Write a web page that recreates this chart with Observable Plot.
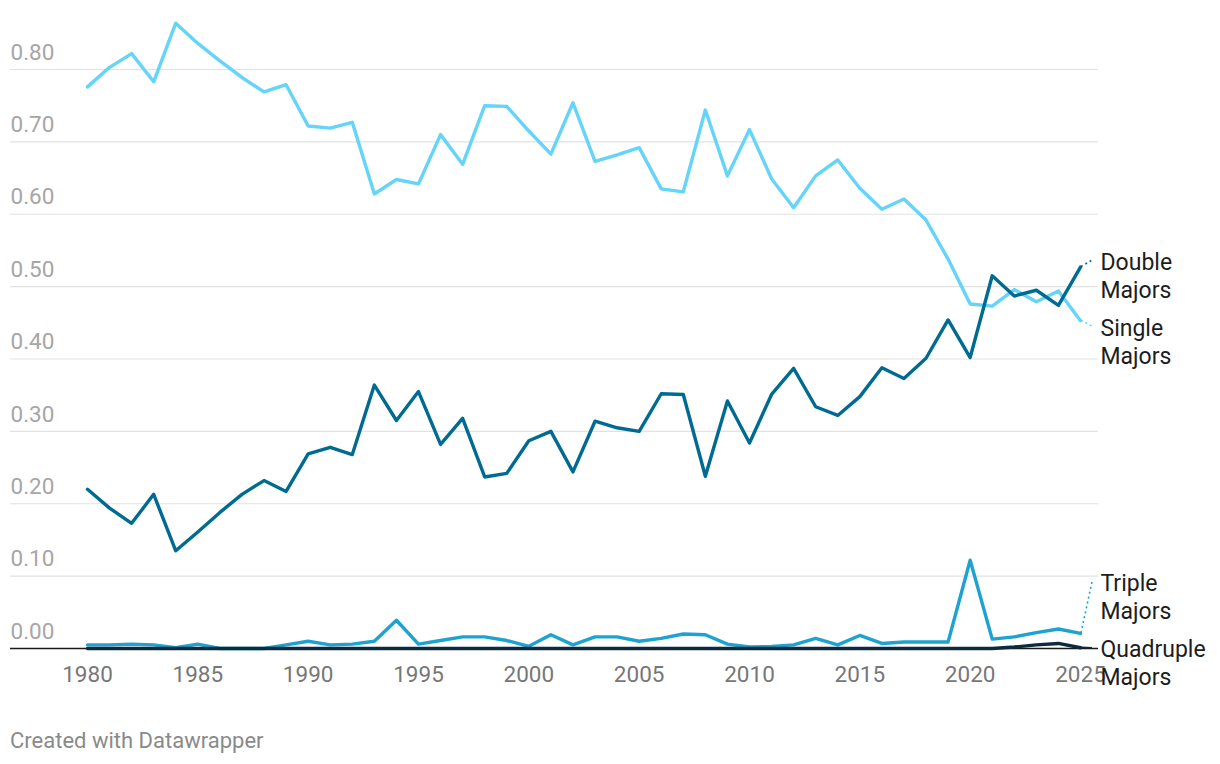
<!DOCTYPE html>
<html>
<head>
<meta charset="utf-8">
<script src="https://cdn.jsdelivr.net/npm/d3@7"></script>
<script src="https://cdn.jsdelivr.net/npm/@observablehq/plot@0.6"></script>
<style>
  html, body { margin: 0; padding: 0; background: #fff; }
  body { width: 1220px; height: 764px; position: relative; font-family: Roboto, "Noto Sans", sans-serif; overflow: hidden; }
  #chart { position: absolute; left: 0; top: 0; }
  #caption { position: absolute; left: 10px; top: 727px; font-size: 22px; line-height: 28px; color: #8a8a8a; }
</style>
</head>
<body>
<div id="chart"></div>
<div id="caption">Created with Datawrapper</div>
<script>
const years = [1980,1981,1982,1983,1984,1985,1986,1987,1988,1989,
  1990,1991,1992,1993,1994,1995,1996,1997,1998,1999,
  2000,2001,2002,2003,2004,2005,2006,2007,2008,2009,
  2010,2011,2012,2013,2014,2015,2016,2017,2018,2019,
  2020,2021,2022,2023,2024,2025];

const singleMajors = [0.776,0.803,0.822,0.783,0.864,0.836,0.812,0.789,0.769,0.779,
  0.722,0.719,0.727,0.628,0.648,0.642,0.710,0.669,0.750,0.749,
  0.715,0.683,0.754,0.673,0.682,0.692,0.635,0.631,0.744,0.653,
  0.717,0.649,0.609,0.653,0.675,0.636,0.607,0.621,0.592,0.538,
  0.476,0.473,0.496,0.479,0.494,0.453];

const doubleMajors = [0.220,0.194,0.173,0.213,0.135,0.161,0.188,0.213,0.232,0.217,
  0.269,0.278,0.268,0.364,0.315,0.355,0.282,0.318,0.237,0.242,
  0.287,0.300,0.244,0.314,0.305,0.300,0.352,0.351,0.238,0.342,
  0.284,0.351,0.387,0.334,0.322,0.348,0.388,0.373,0.401,0.454,
  0.402,0.515,0.487,0.495,0.474,0.527];

const tripleMajors = [0.005,0.005,0.006,0.005,0.001,0.006,0.000,0.000,0.000,0.005,
  0.010,0.005,0.006,0.010,0.039,0.006,0.011,0.016,0.016,0.011,
  0.003,0.019,0.005,0.016,0.016,0.010,0.014,0.020,0.019,0.006,
  0.002,0.003,0.005,0.014,0.005,0.018,0.007,0.009,0.009,0.009,
  0.122,0.013,0.016,0.022,0.027,0.021];

const quadrupleMajors = [0,0,0,0,0,0,0,0,0,0,
  0,0,0,0,0,0,0,0,0,0,
  0,0,0,0,0,0,0,0,0,0,
  0,0,0,0,0,0,0,0,0,0,
  0,0,0.002,0.005,0.007,0.001];

const seriesNames = ["Single Majors", "Double Majors", "Triple Majors", "Quadruple Majors"];
const labelTexts = ["Single\nMajors", "Double\nMajors", "Triple\nMajors", "Quadruple\nMajors"];
const yTicks = [0, 0.1, 0.2, 0.3, 0.4, 0.5, 0.6, 0.7, 0.8];
const yTickLabels = ["0.00","0.10","0.20","0.30","0.40","0.50","0.60","0.70","0.80"];
const xTicks = [1980, 1985, 1990, 1995, 2000, 2005, 2010, 2015, 2020, 2025];

const colors = ["#64d4f8", "#006b92", "#1ea3d0", "#0d2b3e"];
const labelDy = [20, 7.5, -37, 14.5];

const seriesValues = [singleMajors, doubleMajors, tripleMajors, quadrupleMajors];
const rows = seriesNames.flatMap((name, s) =>
  years.map((year, i) => ({series: name, year, value: seriesValues[s][i]})));

const lastRows = seriesNames.map((name, s) => ({
  series: name, label: labelTexts[s], year: years[years.length - 1],
  value: seriesValues[s][years.length - 1], color: colors[s], dy: labelDy[s]
}));

const tickRows = yTicks.map((v, i) => ({v, label: yTickLabels[i]}));

const font = "Roboto, 'Noto Sans', sans-serif";

// leader lines from line ends to labels (pixel offsets via scales)
function leaders(index, scales) {
  const g = d3.create("svg:g");
  for (const r of lastRows) {
    const x0 = scales.x(r.year);
    const y0 = scales.y(r.value);
    const yl = y0 + r.dy - 14;
    g.append("line")
      .attr("x1", x0 + 1).attr("y1", y0)
      .attr("x2", x0 + 12).attr("y2", yl)
      .attr("stroke", r.color)
      .attr("stroke-width", 1.6)
      .attr("stroke-dasharray", r.series === "Quadruple Majors" ? null : "2,3");
  }
  return g.node();
}

const labelMarks = lastRows.map(r => Plot.text([r], {
  x: "year", y: "value", text: "label", dx: 20, dy: r.dy,
  textAnchor: "start", lineAnchor: "middle", lineHeight: 1.22,
  fontSize: 23, fill: "#1d1d1d"
}));

const chart = Plot.plot({
  width: 1220,
  height: 700,
  marginLeft: 10,
  marginRight: 122,
  marginTop: 69,
  marginBottom: 52,
  style: {fontFamily: font, background: "transparent"},
  x: {domain: [1976.511, 2025.816], axis: null, label: null},
  y: {domain: [0, 0.8], axis: null, label: null},
  marks: [
    Plot.ruleY(yTicks.filter(v => v > 0), {stroke: "#e2e2e2", strokeWidth: 1.2}),
    Plot.text(tickRows, {
      y: "v", text: "label", frameAnchor: "left", textAnchor: "start",
      dy: -17, fontSize: 22.5, fill: "#a6a6a6"
    }),
    Plot.axisX({
      ticks: xTicks, tickFormat: d => String(d), tickSize: 0, tickPadding: 18,
      fontSize: 22.5, color: "#777", anchor: "bottom", label: null
    }),
    Plot.ruleY([0], {stroke: "#1a1a1a", strokeWidth: 1.5}),
    Plot.line(rows, {
      x: "year", y: "value", z: "series",
      stroke: d => colors[seriesNames.indexOf(d.series)],
      strokeWidth: 3.4, strokeLinejoin: "round", strokeLinecap: "round"
    }),
    leaders,
    ...labelMarks
  ]
});

document.getElementById("chart").appendChild(chart);
</script>
</body>
</html>
